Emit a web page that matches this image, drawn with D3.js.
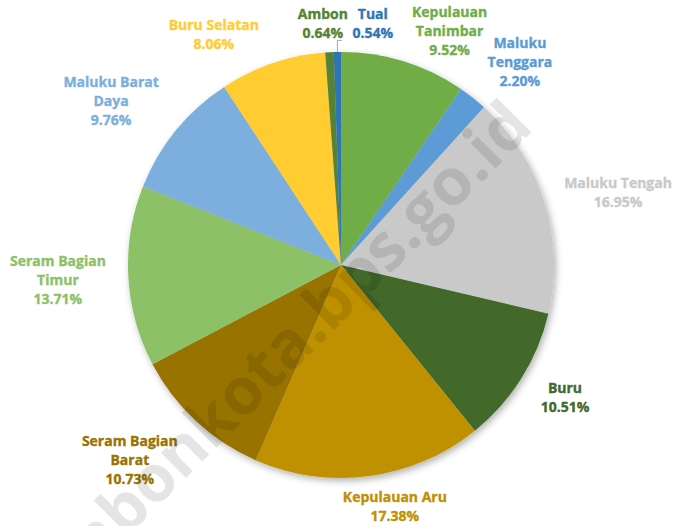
<!DOCTYPE html>
<html>
<head>
<meta charset="utf-8">
<script src="https://cdn.jsdelivr.net/npm/d3@7"></script>
<style>
  html, body { margin: 0; padding: 0; background: #ffffff; }
  svg { display: block; }
  text { font-family: "Open Sans", "Noto Sans", sans-serif; font-weight: 700; }
</style>
</head>
<body>
<svg id="chart" width="679" height="526"></svg>
<script>
// ---- data ----
const regions = ["Kepulauan Tanimbar", "Maluku Tenggara", "Maluku Tengah", "Buru",
  "Kepulauan Aru", "Seram Bagian Barat", "Seram Bagian Timur", "Maluku Barat Daya",
  "Buru Selatan", "Ambon", "Tual"];
const shares = [9.52, 2.20, 16.95, 10.51, 17.38, 10.73, 13.71, 9.76, 8.06, 0.64, 0.54];
const labelLines = [["Kepulauan", "Tanimbar"], ["Maluku", "Tenggara"], ["Maluku Tengah"], ["Buru"],
  ["Kepulauan Aru"], ["Seram Bagian", "Barat"], ["Seram Bagian", "Timur"], ["Maluku Barat", "Daya"],
  ["Buru Selatan"], ["Ambon"], ["Tual"]];
const palette = ["#70AD47", "#5B9BD5", "#C9C9C9", "#43682B", "#BF9000", "#997300",
  "#8CC168", "#7CAFDD", "#FFCD33", "#548235", "#2E75B6"];
const watermark = "ambonkota.bps.go.id";

// ---- layout ----
const W = 679, H = 526;
const cx = 341, cy = 265, R = 213;
// label anchor in polar form (degrees clockwise from 12 o'clock, distance as multiple of R)
const labelPolar = [[24.9, 1.211], [41.4, 1.270], [75.4, 1.344], [120.7, 1.223], [167.4, 1.160],
  [227.3, 1.349], [267.0, 1.331], [305.5, 1.326], [331.1, 1.236], [355.7, 1.137], [7.5, 1.144]];
const lineH = 19;

const svg = d3.select("#chart");
const defs = svg.append("defs");
const f = defs.append("filter").attr("id", "shadow")
  .attr("x", "-20%").attr("y", "-20%").attr("width", "140%").attr("height", "140%");
f.append("feDropShadow").attr("dx", 2).attr("dy", 3).attr("stdDeviation", 3.5)
  .attr("flood-color", "#000").attr("flood-opacity", 0.3);

const data = regions.map((name, i) => ({ name, value: shares[i], lines: labelLines[i], color: palette[i], lp: labelPolar[i] }));

const pie = d3.pie().sort(null).value(d => d.value).startAngle(0).endAngle(2 * Math.PI);
const arcs = pie(data);
const arc = d3.arc().innerRadius(0).outerRadius(R);

const g = svg.append("g").attr("transform", `translate(${cx},${cy})`);
g.append("g").attr("filter", "url(#shadow)")
  .selectAll("path").data(arcs).join("path")
  .attr("d", arc)
  .attr("fill", d => d.data.color);

// labels
const fmt = v => v.toFixed(2) + "%";
const rad = a => a * Math.PI / 180;
const labelG = g.append("g");
arcs.forEach(a => {
  const d = a.data;
  const ang = rad(d.lp[0]);
  const dist = d.lp[1] * R;
  const lx = Math.sin(ang) * dist;
  const ly = -Math.cos(ang) * dist;
  const lines = d.lines.concat([fmt(d.value)]);
  const n = lines.length;
  const t = labelG.append("text")
    .attr("text-anchor", "middle")
    .attr("font-size", "14px")
    .attr("fill", d.color)
    .attr("stroke", d.color).attr("stroke-width", 0.35);
  lines.forEach((s, i) => {
    t.append("tspan").attr("x", lx)
      .attr("y", ly - (n - 1) * lineH / 2 + i * lineH + 5)
      .text(s);
  });
  d._box = { x: lx, y: ly, n };
});

// leader line for the tiny "Tual" slice
const tual = arcs[arcs.length - 1];
const tMid = (tual.startAngle + tual.endAngle) / 2;
const tb = tual.data._box;
const px = Math.sin(tMid) * R, py = -Math.cos(tMid) * R;
const topY = tb.y + tb.n * lineH / 2 - 2;
g.append("path")
  .attr("d", d3.line()([[px, py], [px, topY], [px + 4.5, topY]]))
  .attr("fill", "none").attr("stroke", "#A6A6A6").attr("stroke-width", 1);

// watermark
svg.append("text")
  .attr("transform", `translate(52,612) rotate(-45)`)
  .attr("text-anchor", "start")
  .attr("font-size", "65px")
  .attr("fill", "#000").attr("fill-opacity", 0.1)
  .text(watermark);
</script>
</body>
</html>
